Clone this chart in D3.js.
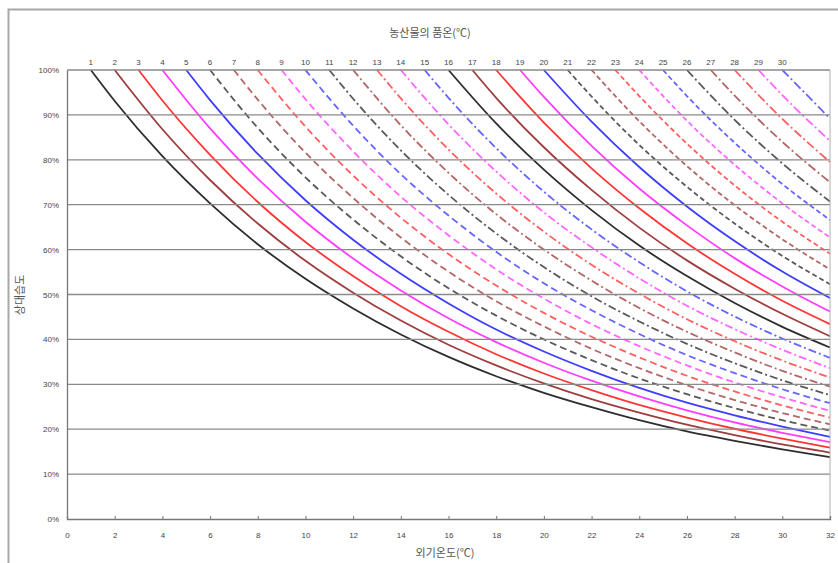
<!DOCTYPE html>
<html><head><meta charset="utf-8">
<script src="https://cdn.jsdelivr.net/npm/d3@7"></script>
<style>
html,body{margin:0;padding:0;background:#fff;}
svg{display:block;font-family:"Noto Sans CJK KR","Noto Sans",sans-serif;}
</style></head>
<body><svg id="c" width="838" height="563"></svg>
<script>
// Produce temperatures (top labels, one curve each)
const produceTemps = d3.range(1, 31);
const xTicks = d3.range(0, 33, 2);
const yTicks = d3.range(0, 101, 10);
const titleText = "농산물의 품온(℃)";
const xLabel = "외기온도(℃)";
const yLabel = "상대습도";
// Relative humidity (%) read at: the curve start (t = produce temp) and then every even outside temperature up to 32
const rhCurves = [
  [100,93.1,80.8,70.3,61.2,53.5,46.9,41.1,36.1,31.8,28.1,24.9,22.0,19.5,17.4,15.5,13.8],
  [100,86.8,75.5,65.8,57.5,50.4,44.2,38.8,34.2,30.2,26.7,23.7,21.0,18.7,16.6,14.8],
  [100,93.2,81.1,70.6,61.7,54.1,47.4,41.7,36.7,32.4,28.7,25.4,22.6,20.1,17.9,15.9],
  [100,87.0,75.8,66.2,58.0,50.9,44.7,39.4,34.8,30.8,27.3,24.2,21.5,19.2,17.1],
  [100,93.3,81.3,71.0,62.2,54.6,48.0,42.2,37.3,33.0,29.2,25.9,23.1,20.6,18.3],
  [100,87.1,76.1,66.7,58.5,51.4,45.3,40.0,35.4,31.3,27.8,24.7,22.0,19.7],
  [100,93.4,81.6,71.5,62.7,55.1,48.5,42.9,37.9,33.6,29.8,26.5,23.6,21.1],
  [100,87.4,76.5,67.1,59.0,52.0,45.9,40.6,36.0,31.9,28.4,25.3,22.6],
  [100,93.5,81.9,71.8,63.2,55.6,49.1,43.4,38.5,34.2,30.4,27.1,24.1],
  [100,87.6,76.8,67.6,59.5,52.5,46.5,41.2,36.5,32.5,28.9,25.8],
  [100,93.6,82.1,72.2,63.6,56.1,49.6,44.0,39.0,34.7,30.9,27.6],
  [100,87.7,77.1,67.9,60.0,53.1,47.0,41.7,37.1,33.0,29.5],
  [100,93.7,82.3,72.5,64.0,56.6,50.2,44.5,39.6,35.3,31.5],
  [100,87.9,77.4,68.3,60.5,53.6,47.5,42.3,37.7,33.6],
  [100,93.8,82.6,72.9,64.5,57.2,50.7,45.1,40.2,35.9],
  [100,88.1,77.8,68.8,60.9,54.1,48.1,42.8,38.2],
  [100,93.8,82.8,73.3,64.9,57.6,51.3,45.7,40.7],
  [100,88.3,78.1,69.2,61.4,54.6,48.6,43.4],
  [100,94.0,83.1,73.6,65.4,58.1,51.8,46.2],
  [100,88.5,78.4,69.6,61.9,55.1,49.2],
  [100,94.1,83.3,74.0,65.8,58.6,52.3],
  [100,88.6,78.6,69.9,62.3,55.6],
  [100,94.2,83.6,74.3,66.2,59.1],
  [100,88.7,78.9,70.3,62.7],
  [100,94.2,83.8,74.6,66.6],
  [100,88.9,79.2,70.7],
  [100,94.3,84.0,75.0],
  [100,89.1,79.5],
  [100,94.4,84.2],
  [100,89.2]
];
const palette = ["#222222", "#993333", "#ff2a2a", "#ff33ff", "#3333ff"];
const dashGroups = [null, "7,4", "8,3,2,3", null, "5,3", "9,3,2,3"];

const svg = d3.select("#c");
const x = d3.scaleLinear().domain([0, 32]).range([67, 830]);
const y = d3.scaleLinear().domain([0, 100]).range([519, 70]);

// outer frame
svg.append("rect").attr("x", 8.5).attr("y", 9.5).attr("width", 840).attr("height", 570)
  .attr("fill", "none").attr("stroke", "#a8a8a8").attr("stroke-width", 2);

// curves
const line = d3.line().x(d => x(d[0])).y(d => y(d[1])).curve(d3.curveMonotoneX);
produceTemps.forEach((T, i) => {
  const vals = rhCurves[i];
  const xs = [T];
  for (let t = T + 1; t <= 32; t++) if (t % 2 === 0) xs.push(t);
  const pts = vals.map((v, k) => [xs[k], v]);
  const grp = Math.floor(i / 5);
  const dash = dashGroups[grp];
  svg.append("path").datum(pts)
    .attr("d", line)
    .attr("fill", "none")
    .attr("stroke", palette[i % 5])
    .attr("stroke-width", 1.8)
    .attr("stroke-opacity", dash ? 0.75 : 0.95)
    .attr("stroke-dasharray", dash);
});

// gridlines (drawn over the curves)
svg.append("g").selectAll("line").data(yTicks.filter(d => d > 0)).join("line")
  .attr("x1", x(0)).attr("x2", x(32)).attr("y1", d => y(d)).attr("y2", d => y(d))
  .attr("stroke", "#8a8a8a").attr("stroke-width", 1.3);
// right border
svg.append("line").attr("x1", x(32)).attr("x2", x(32)).attr("y1", y(100)).attr("y2", y(0))
  .attr("stroke", "#b0b0b0").attr("stroke-width", 1);

// axes
const yAxis = d3.axisLeft(y).tickValues(yTicks).tickSize(0).tickPadding(8).tickFormat(d => d + "%");
const gy = svg.append("g").attr("transform", `translate(${x(0)},0)`).call(yAxis);
gy.select(".domain").attr("stroke", "#777").attr("stroke-width", 1.3);
gy.selectAll("text").attr("font-size", 8).attr("fill", "#444").attr("font-family", "Arial, 'Liberation Sans', sans-serif");

const xAxis = d3.axisBottom(x).tickValues(xTicks).tickSize(-3).tickPadding(13);
const gx = svg.append("g").attr("transform", `translate(0,${y(0)})`).call(xAxis);
gx.select(".domain").attr("stroke", "#777").attr("stroke-width", 1.3);
gx.selectAll(".tick line").attr("stroke", "#777");
gx.selectAll("text").attr("font-size", 8).attr("fill", "#444").attr("font-family", "Arial, 'Liberation Sans', sans-serif");

// top labels (produce temperatures)
svg.append("g").selectAll("text").data(produceTemps).join("text")
  .attr("x", d => x(d)).attr("y", 65).attr("text-anchor", "middle")
  .attr("font-size", 8).attr("fill", "#444")
  .attr("font-family", "Arial, 'Liberation Sans', sans-serif")
  .text(d => d);

// titles
svg.append("text").attr("x", 430).attr("y", 37).attr("text-anchor", "middle")
  .attr("font-size", 11).attr("fill", "#555").text(titleText);
svg.append("text").attr("x", 445).attr("y", 557).attr("text-anchor", "middle")
  .attr("font-size", 11).attr("fill", "#555").text(xLabel);
svg.append("text").attr("transform", "translate(24,295) rotate(-90)").attr("text-anchor", "middle")
  .attr("font-size", 11).attr("fill", "#555").text(yLabel);
</script></body></html>
